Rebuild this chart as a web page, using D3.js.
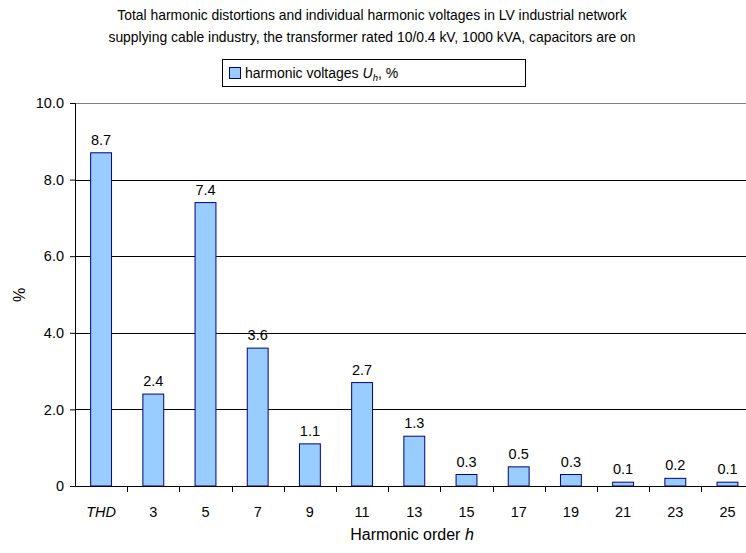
<!DOCTYPE html>
<html>
<head>
<meta charset="utf-8">
<script src="https://cdn.jsdelivr.net/npm/d3@7/dist/d3.min.js"></script>
<style>
  html, body { margin: 0; padding: 0; background: #fff; }
  svg { display: block; font-family: "Liberation Sans", Arial, sans-serif; }
</style>
</head>
<body>
<svg id="chart" width="746" height="553"></svg>
<script>
// Harmonic orders (first category is the total harmonic distortion)
const categories = ["THD", "3", "5", "7", "9", "11", "13", "15", "17", "19", "21", "23", "25"];
// Harmonic voltage levels U_h in %
const values = [8.7, 2.4, 7.4, 3.6, 1.1, 2.7, 1.3, 0.3, 0.5, 0.3, 0.1, 0.2, 0.1];
const yTicks = [0, 2, 4, 6, 8, 10];
const titleLines = [
  "Total harmonic distortions and individual harmonic voltages in LV industrial network",
  "supplying cable industry, the transformer rated 10/0.4 kV, 1000 kVA, capacitors are on"
];

const svg = d3.select("#chart");
const W = 746, H = 553;
const plot = { left: 75, top: 103, bottom: 486, bandW: 52.2 };
plot.right = plot.left + plot.bandW * categories.length;

const x = d3.scaleBand().domain(categories).range([plot.left, plot.right]).paddingInner(0.6).paddingOuter(0.3);
const xTickScale = d3.scaleBand().domain(categories).range([plot.left, plot.right]);
const y = d3.scaleLinear().domain([0, 10]).range([plot.bottom, plot.top]);

// Title
svg.append("g").selectAll("text").data(titleLines).join("text")
  .attr("x", 372).attr("y", (d, i) => 20 + i * 22)
  .attr("text-anchor", "middle").attr("font-size", 13.9).attr("fill", "#000")
  .text(d => d);

// Gridlines
svg.append("g").selectAll("line").data(yTicks.filter(t => t > 0)).join("line")
  .attr("x1", plot.left).attr("x2", W)
  .attr("y1", d => Math.round(y(d)) + 0.5).attr("y2", d => Math.round(y(d)) + 0.5)
  .attr("stroke", d => d === 10 ? "#808080" : "#000").attr("stroke-width", 1);

// Bars
svg.append("g").selectAll("rect").data(values).join("rect")
  .attr("x", (d, i) => x(categories[i]))
  .attr("y", d => y(d))
  .attr("width", x.bandwidth())
  .attr("height", d => y(0) - y(d))
  .attr("fill", "#99CCFF").attr("stroke", "#000080").attr("stroke-width", 1);

// Value labels
svg.append("g").selectAll("text").data(values).join("text")
  .attr("x", (d, i) => x(categories[i]) + x.bandwidth() / 2)
  .attr("y", d => y(d) - 8)
  .attr("text-anchor", "middle").attr("font-size", 14.5).attr("fill", "#000")
  .text(d => d.toFixed(1));

// Y axis
const yAxis = d3.axisLeft(y).tickValues(yTicks).tickSize(5).tickPadding(6)
  .tickFormat(d => d === 0 ? "0" : d.toFixed(1));
const gy = svg.append("g").attr("transform", `translate(${plot.left},0)`).call(yAxis);
gy.select(".domain").attr("stroke", "#000").attr("d", `M-5,${plot.top + 0.5}H0.5V${plot.bottom + 0.5}H-5`);
gy.selectAll(".tick line").attr("stroke", "#000");
gy.selectAll(".tick text").attr("font-size", 14.5).attr("font-family", "Liberation Sans, Arial, sans-serif").attr("fill", "#000");

// X axis with ticks between categories
const gx = svg.append("g").attr("transform", `translate(0,${plot.bottom})`);
gx.append("line").attr("x1", plot.left - 5).attr("x2", W).attr("y1", 0.5).attr("y2", 0.5).attr("stroke", "#000");
gx.selectAll("line.tk").data(categories).join("line").attr("class", "tk")
  .attr("x1", d => Math.round(xTickScale(d) + xTickScale.bandwidth()) + 0.5)
  .attr("x2", d => Math.round(xTickScale(d) + xTickScale.bandwidth()) + 0.5)
  .attr("y1", 0).attr("y2", 6).attr("stroke", "#000");
gx.selectAll("text").data(categories).join("text")
  .attr("x", d => xTickScale(d) + xTickScale.bandwidth() / 2)
  .attr("y", 31)
  .attr("text-anchor", "middle").attr("font-size", 14.5).attr("fill", "#000")
  .attr("font-style", d => d === "THD" ? "italic" : "normal")
  .text(d => d);

// Axis titles
const xt = svg.append("text").attr("x", 412).attr("y", 540).attr("text-anchor", "middle")
  .attr("font-size", 16).attr("fill", "#000");
xt.append("tspan").text("Harmonic order ");
xt.append("tspan").attr("font-style", "italic").text("h");

svg.append("text").attr("transform", "translate(25,295) rotate(-90)")
  .attr("text-anchor", "middle").attr("font-size", 16).attr("fill", "#000").text("%");

// Legend
const lg = svg.append("g");
lg.append("rect").attr("x", 222.5).attr("y", 59.5).attr("width", 303).attr("height", 27)
  .attr("fill", "#fff").attr("stroke", "#000");
lg.append("rect").attr("x", 229.5).attr("y", 67.5).attr("width", 11).attr("height", 11)
  .attr("fill", "#99CCFF").attr("stroke", "#000080");
const lt = lg.append("text").attr("x", 245).attr("y", 78).attr("font-size", 14).attr("fill", "#000");
lt.append("tspan").text("harmonic voltages ");
lt.append("tspan").attr("font-style", "italic").text("U");
lt.append("tspan").attr("font-style", "italic").attr("font-size", 9.5).attr("dy", 3).text("h");
lt.append("tspan").attr("dy", -3).text(", %");
</script>
</body>
</html>
